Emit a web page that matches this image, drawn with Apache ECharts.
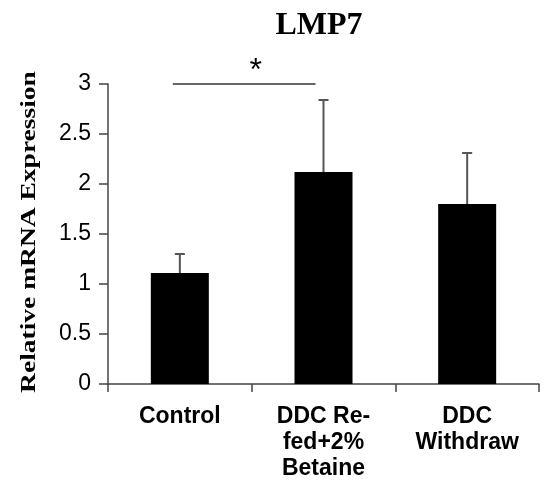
<!DOCTYPE html>
<html>
<head>
<meta charset="utf-8">
<script src="https://cdn.jsdelivr.net/npm/echarts@6/dist/echarts.min.js"></script>
<style>
  html, body { margin: 0; padding: 0; background: #fff; }
  #chart { width: 543px; height: 485px; }
</style>
</head>
<body>
<div id="chart"></div>
<script>
  var categories = ['Control', 'DDC Re-\nfed+2%\nBetaine', 'DDC\nWithdraw'];
  var means = [1.11, 2.12, 1.80];
  var upperErr = [1.30, 2.84, 2.31];
  var yTicks = [0, 0.5, 1, 1.5, 2, 2.5, 3];
  var yTitle = 'Relative mRNA Expression';
  var sigPair = [0, 1];
  var sigLevel = 3;
  var sigMark = '*';

  var chart = echarts.init(document.getElementById('chart'));

  var errData = categories.map(function (c, i) { return [i, means[i], upperErr[i]]; });

  chart.setOption({
    animation: false,
    title: {
      text: 'LMP7',
      left: 314,
      textAlign: 'center',
      top: 5,
      textStyle: { fontFamily: 'Liberation Serif', fontWeight: 'bold', fontSize: 32, color: '#000' }
    },
    // y title is stretched along its length in the original, so it is drawn as a graphic text
    graphic: [{
      type: 'text',
      x: 29, y: 232,
      rotation: Math.PI / 2,
      scaleX: 1.25,
      style: {
        text: yTitle, fill: '#000',
        font: 'bold 22px "Liberation Serif"',
        align: 'center', verticalAlign: 'middle'
      }
    }],
    grid: { left: 108, right: 4, top: 84, bottom: 101, outerBoundsMode: 'none', containLabel: false },
    xAxis: {
      type: 'category',
      data: categories,
      axisLine: { lineStyle: { color: '#444', width: 1.5 } },
      axisTick: { show: true, length: 8, lineStyle: { color: '#444', width: 1.5 } },
      axisLabel: {
        interval: 0, margin: 20, color: '#000',
        fontFamily: 'Liberation Sans', fontWeight: 'bold', fontSize: 23, lineHeight: 26
      }
    },
    yAxis: {
      type: 'value',
      min: yTicks[0], max: yTicks[yTicks.length - 1], interval: 0.5,
      splitLine: { show: false },
      axisLine: { show: true, lineStyle: { color: '#444', width: 1.5 } },
      axisTick: { show: true, length: 9, lineStyle: { color: '#444', width: 1.5 } },
      axisLabel: { margin: 17, color: '#000', fontFamily: 'Liberation Sans', fontSize: 23 }
    },
    series: [
      {
        type: 'bar',
        data: means,
        barWidth: 58,
        itemStyle: { color: '#000' }
      },
      {
        type: 'custom',
        data: errData,
        z: 1,
        renderItem: function (params, api) {
          var base = api.coord([api.value(0), api.value(1)]);
          var top = api.coord([api.value(0), api.value(2)]);
          var style = { stroke: '#555', lineWidth: 2 };
          return {
            type: 'group',
            children: [
              { type: 'line', shape: { x1: base[0], y1: base[1], x2: top[0], y2: top[1] }, style: style },
              { type: 'line', shape: { x1: top[0] - 5, y1: top[1], x2: top[0] + 5, y2: top[1] }, style: style }
            ]
          };
        }
      },
      {
        type: 'custom',
        data: [[sigPair[0], sigPair[1], sigLevel]],
        renderItem: function (params, api) {
          var a = api.coord([api.value(0), api.value(2)]);
          var b = api.coord([api.value(1), api.value(2)]);
          return {
            type: 'group',
            children: [
              { type: 'line', shape: { x1: a[0] - 7, y1: a[1], x2: b[0] - 8, y2: b[1] },
                style: { stroke: '#666', lineWidth: 2 } },
              { type: 'text', x: (a[0] + b[0]) / 2 + 4, y: a[1] + 3,
                style: { text: sigMark, fill: '#000', font: '32px "Liberation Sans"',
                         align: 'center', verticalAlign: 'bottom' } }
            ]
          };
        }
      }
    ]
  });
</script>
</body>
</html>
